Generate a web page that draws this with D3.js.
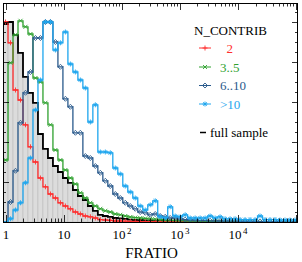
<!DOCTYPE html>
<html>
<head>
<meta charset="utf-8">
<script src="https://cdn.jsdelivr.net/npm/d3@7"></script>
<style>
  body { margin: 0; background: #fff; }
  svg { display: block; }
</style>
</head>
<body>
<svg></svg>
<script>
// FRATIO distributions, split by N_CONTRIB
// bins are equal steps in log10(FRATIO)
const binStart = -0.05;
const binWidth = 0.086;

const fullSample = [49.5, 50, 46.8, 42.3, 36.3, 32.3, 29.8, 22, 18.3, 16,
  14, 12.5, 11, 9.8, 8, 6.5, 5.5, 4, 2.8, 1.8,
  1.5, 1.3, 1, 0.9, 0.8, 0.6, 0.5, 0.5, 0.4, 0.4,
  0.3, 0.3, 0.25, 0.25, 0.2, 0.2, 0.2, 0.15, 0.15, 0.15,
  0.1, 0.1, 0.1, 0.1, 0.1, 0.1, 0.08, 0.08, 0.08, 0.06,
  0.06, 0.05, 0.05, 0.05, 0.04, 0.04, 0.03, 0.03, 0.02];

const nc2 = [50, 44.8, 33, 30.5, 24.3, 18.8, 15, 11, 8.8, 7,
  6, 4.8, 4, 3.3, 2.5, 2, 1.5, 1.3, 1, 0.6,
  0.5, 0.4, 0.25, 0.25, 0.2, 0.15, 0.12, 0.1, 0.08, 0.06,
  0.05, 0.04, 0.03, 0.02, 0.02, 0.01, 0, 0, 0, 0,
  0, 0, 0, 0, 0, 0, 0, 0, 0, 0,
  0, 0, 0, 0, 0, 0, 0, 0, 0];

const nc3to5 = [15.5, 39.8, 46.8, 50.3, 48.8, 47, 36, 35, 29.8, 24.3,
  18, 15.5, 13, 11, 9.5, 7.3, 6, 4.8, 4, 3.3,
  2.8, 2.5, 2, 1.8, 1.5, 1.25, 1.1, 1, 0.9, 0.8,
  0.7, 0.6, 0.5, 0.45, 0.4, 0.35, 0.3, 0.25, 0.25, 0.2,
  0.2, 0.15, 0.15, 0.12, 0.1, 0.1, 0.08, 0.08, 0.06, 0.06,
  0.05, 0.05, 0.04, 0.04, 0.03, 0.03, 0.02, 0.02, 0.02];

const nc6to10 = [0, 5, 12.8, 24.8, 32.3, 37.5, 46, 46, 50, 50,
  45, 38.8, 30.8, 28.8, 22.3, 22.3, 16.5, 16, 14, 12.3,
  10.3, 9, 7, 6, 4.8, 4, 3.3, 2.5, 2.3, 1.8,
  2, 1.5, 1.3, 1, 1, 0.8, 0.6, 0.5, 0.5, 0.4,
  0.4, 0.3, 0.3, 0.25, 0.25, 0.2, 0.2, 0.15, 0.15, 0.12,
  0.1, 0.1, 0.1, 0.08, 0.08, 0.06, 0.05, 0.05, 0.04];

const ncOver10 = [0, 0.8, 3, 4.8, 9.8, 16, 28, 35.5, 50, 50,
  43, 44.8, 47.5, 39.5, 37.5, 35.5, 33.5, 25, 29.3, 17.5,
  17.5, 17.3, 13.5, 12, 9, 7.5, 6, 4, 3, 4.3,
  5.3, 1.3, 1, 3.8, 1.5, 1.3, 1.8, 1, 1, 1,
  1, 1.5, 1, 1.3, 0.8, 0.8, 0.8, 0.6, 0.6, 0.6,
  0.6, 1.5, 0.6, 0.6, 0.6, 0.5, 0.5, 0.5, 0.5];

const seriesNames = ['\u00a0\u00a02', '3..5', '6..10', '>10'];
const seriesColors = ['#ff2e2e', '#2fa12f', '#2a5a8c', '#1ea6ee'];
const seriesMarkers = ['plus', 'cross', 'diamond', 'star'];
const xLabelTicks = [1, 10, 100, 1000, 10000];
const xLabelBase = ['1', '10', '10', '10', '10'];
const xLabelExp = ['', '', '2', '3', '4'];

const serif = 'Liberation Serif';
const s = { width: 302, height: 262, left: 3, right: 298, top: 3, bottom: 222 };

const svg = d3.select('svg')
    .attr('width', s.width)
    .attr('height', s.height);

const x = d3.scaleLog()
    .domain([0.89, 1.08e5])
    .range([s.left, s.right]);

const y = d3.scaleLinear()
    .domain([0, 54.75])
    .range([s.bottom, s.top]);

const lo = k => Math.pow(10, binStart + k * binWidth);
const hi = k => Math.pow(10, binStart + (k + 1) * binWidth);
const mid = k => Math.pow(10, binStart + (k + 0.5) * binWidth);

function steps(values) {
  const pts = [[lo(0), 0]];
  values.forEach((v, k) => {
    pts.push([lo(k), v]);
    pts.push([hi(k), v]);
  });
  return pts;
}

const line = d3.line()
    .x(d => x(d[0]))
    .y(d => y(d[1]));

svg.append('defs').append('clipPath')
    .attr('id', 'plot')
  .append('rect')
    .attr('x', s.left).attr('y', s.top)
    .attr('width', s.right - s.left).attr('height', s.bottom - s.top);

const plot = svg.append('g').attr('clip-path', 'url(#plot)');

// grey filled full sample, one bar per bin
plot.selectAll('rect.bar')
  .data(fullSample)
  .join('rect')
    .attr('class', 'bar')
    .attr('x', (d, k) => x(lo(k)))
    .attr('width', (d, k) => x(hi(k)) - x(lo(k)))
    .attr('y', d => y(d))
    .attr('height', d => y(0) - y(d))
    .attr('fill', '#dcdcdc')
    .attr('stroke', '#bcbcbc')
    .attr('stroke-width', 0.6);

plot.append('path')
    .attr('d', line(steps(fullSample)))
    .attr('fill', 'none')
    .attr('stroke', '#000')
    .attr('stroke-width', 1.8);

const markerPath = {
  plus: 'M-2.5,0H2.5M0,-2.5V2.5',
  cross: 'M-2,-2L2,2M-2,2L2,-2',
  diamond: 'M0,-2.5L2.5,0L0,2.5L-2.5,0Z',
  star: 'M-2.5,0H2.5M0,-2.5V2.5M-1.8,-1.8L1.8,1.8M-1.8,1.8L1.8,-1.8'
};

const series = [nc2, nc3to5, nc6to10, ncOver10];

series.forEach((values, i) => {
  plot.append('path')
      .attr('d', line(steps(values)))
      .attr('fill', 'none')
      .attr('stroke', seriesColors[i])
      .attr('stroke-width', 1.3);

  plot.selectAll('path.m' + i)
    .data(values.map((v, k) => [mid(k), v]).filter(d => d[1] > 0))
    .join('path')
      .attr('class', 'm' + i)
      .attr('transform', d => `translate(${x(d[0])},${y(d[1])})`)
      .attr('d', markerPath[seriesMarkers[i]])
      .attr('fill', 'none')
      .attr('stroke', seriesColors[i])
      .attr('stroke-width', 0.9);
});

// frame
svg.append('rect')
    .attr('x', s.left + 0.5).attr('y', s.top + 0.5)
    .attr('width', s.right - s.left - 1).attr('height', s.bottom - s.top)
    .attr('fill', 'none')
    .attr('stroke', '#000')
    .attr('stroke-width', 1);

// log ticks, bottom and top
const isMajor = v => Math.abs(Math.log10(v) - Math.round(Math.log10(v))) < 1e-6;
const xt = x.ticks().filter(v => x(v) > s.left + 1 && x(v) < s.right - 1);
const ticks = svg.append('g').attr('stroke', '#000').attr('stroke-width', 0.8);

ticks.selectAll('line.xb')
  .data(xt)
  .join('line')
    .attr('x1', d => Math.round(x(d)) + 0.5).attr('x2', d => Math.round(x(d)) + 0.5)
    .attr('y1', s.bottom).attr('y2', d => s.bottom - (isMajor(d) ? 7 : 3.5));

ticks.selectAll('line.xt')
  .data(xt)
  .join('line')
    .attr('x1', d => Math.round(x(d)) + 0.5).attr('x2', d => Math.round(x(d)) + 0.5)
    .attr('y1', s.top).attr('y2', d => s.top + (isMajor(d) ? 7 : 3.5));

const yt = d3.range(0, 55, 2.5);
ticks.selectAll('line.yl')
  .data(yt)
  .join('line')
    .attr('x1', s.left).attr('x2', d => s.left + (d % 10 === 0 ? 6 : 3))
    .attr('y1', d => Math.round(y(d)) + 0.5).attr('y2', d => Math.round(y(d)) + 0.5);

ticks.selectAll('line.yr')
  .data(yt)
  .join('line')
    .attr('x1', s.right).attr('x2', d => s.right - (d % 10 === 0 ? 6 : 3))
    .attr('y1', d => Math.round(y(d)) + 0.5).attr('y2', d => Math.round(y(d)) + 0.5);

// tick labels
const labels = svg.selectAll('text.xl')
  .data(xLabelTicks)
  .join('text')
    .attr('class', 'xl')
    .attr('x', d => x(d))
    .attr('y', 239)
    .attr('text-anchor', 'middle')
    .style('font-family', serif)
    .style('font-size', '13px');

labels.append('tspan').text((d, i) => xLabelBase[i]);
labels.append('tspan')
    .attr('dx', 1.5)
    .attr('dy', -5)
    .style('font-size', '9px')
    .text((d, i) => xLabelExp[i]);

svg.append('text')
    .attr('x', 151.5)
    .attr('y', 258)
    .attr('text-anchor', 'middle')
    .style('font-family', serif)
    .style('font-size', '15px')
    .text('FRATIO');

// legend
const legend = svg.append('g');
legend.append('text')
    .attr('x', 194)
    .attr('y', 35)
    .style('font-family', serif)
    .style('font-size', '13px')
    .text('N_CONTRIB');

const ly = [48, 67, 85.5, 104];
seriesNames.forEach((name, i) => {
  legend.append('line')
      .attr('x1', 199).attr('x2', 211)
      .attr('y1', ly[i]).attr('y2', ly[i])
      .attr('stroke', seriesColors[i])
      .attr('stroke-width', 1);
  legend.append('path')
      .attr('transform', `translate(205,${ly[i]})`)
      .attr('d', markerPath[seriesMarkers[i]])
      .attr('fill', 'none')
      .attr('stroke', seriesColors[i])
      .attr('stroke-width', 0.9);
  legend.append('text')
      .attr('x', 220)
      .attr('y', ly[i] + 4.5)
      .style('font-family', serif)
      .style('font-size', '13px')
      .attr('fill', seriesColors[i])
      .text(name);
});

legend.append('line')
    .attr('x1', 200).attr('x2', 206)
    .attr('y1', 132.5).attr('y2', 132.5)
    .attr('stroke', '#000')
    .attr('stroke-width', 1.5);
legend.append('text')
    .attr('x', 210)
    .attr('y', 136.5)
    .style('font-family', serif)
    .style('font-size', '13px')
    .text('full sample');
</script>
</body>
</html>
